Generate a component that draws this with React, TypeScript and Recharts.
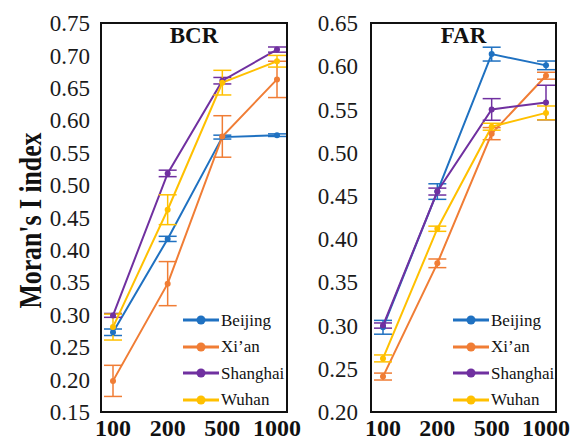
import { LineChart, Line, XAxis, YAxis, ErrorBar, Legend } from "recharts";

const serif = "'Liberation Serif', 'Times New Roman', serif";

const sizes = ["100", "200", "500", "1000"];
const cities = ["Beijing", "Xi’an", "Shanghai", "Wuhan"];
const cityColors = ["#1F71C1", "#F07D35", "#7030A0", "#FFC000"];

// BCR panel
const bcrBeijing = [0.273, 0.417, 0.574, 0.577];
const bcrBeijingErr = [0.005, 0.004, 0.003, 0.002];
const bcrXian = [0.198, 0.348, 0.575, 0.663];
const bcrXianErr = [0.024, 0.034, 0.032, 0.028];
const bcrShanghai = [0.299, 0.518, 0.661, 0.709];
const bcrShanghaiErr = [0.003, 0.005, 0.005, 0.004];
const bcrWuhan = [0.281, 0.462, 0.658, 0.691];
const bcrWuhanErr = [0.02, 0.023, 0.019, 0.009];
const bcrTicks = [0.15, 0.2, 0.25, 0.3, 0.35, 0.4, 0.45, 0.5, 0.55, 0.6, 0.65, 0.7, 0.75];

// FAR panel
const farBeijing = [0.298, 0.455, 0.614, 0.601];
const farBeijingErr = [0.008, 0.009, 0.008, 0.005];
const farXian = [0.241, 0.372, 0.522, 0.589];
const farXianErr = [0.004, 0.005, 0.007, 0.004];
const farShanghai = [0.3, 0.455, 0.55, 0.558];
const farShanghaiErr = [0.003, 0.004, 0.0125, 0.02];
const farWuhan = [0.262, 0.412, 0.53, 0.546];
const farWuhanErr = [0.004, 0.003, 0.004, 0.008];
const farTicks = [0.2, 0.25, 0.3, 0.35, 0.4, 0.45, 0.5, 0.55, 0.6, 0.65];

const buildRows = (series: number[][], errors: number[][]) =>
  sizes.map((size, i) => {
    const row: Record<string, string | number> = { size };
    series.forEach((s, k) => {
      row[`s${k}`] = s[i];
      row[`e${k}`] = errors[k][i];
    });
    return row;
  });

const bcrData = buildRows(
  [bcrBeijing, bcrXian, bcrShanghai, bcrWuhan],
  [bcrBeijingErr, bcrXianErr, bcrShanghaiErr, bcrWuhanErr]
);
const farData = buildRows(
  [farBeijing, farXian, farShanghai, farWuhan],
  [farBeijingErr, farXianErr, farShanghaiErr, farWuhanErr]
);

// keep the legend in series order (Recharts sorts payload by name otherwise)
const LegendRows = () => (
  <div>
    {cities.map((city, k) => (
      <div key={city} style={{ display: "flex", alignItems: "center", height: 26.5 }}>
        <svg width={36} height={12}>
          <line x1={0} y1={6} x2={36} y2={6} stroke={cityColors[k]} strokeWidth={3} />
          <circle cx={18} cy={6} r={4.5} fill={cityColors[k]} />
        </svg>
        <span style={{ marginLeft: 2, fontSize: 17, fontFamily: serif, color: "#111", lineHeight: 1 }}>
          {city}
        </span>
      </div>
    ))}
  </div>
);

const YTitle = ({ viewBox }: any) => {
  const x = (viewBox?.x ?? 0) + 41;
  const y = (viewBox?.y ?? 0) + (viewBox?.height ?? 0) / 2 + 3;
  return (
    <text
      x={x}
      y={y}
      transform={`rotate(-90 ${x} ${y})`}
      textAnchor="middle"
      fontFamily={serif}
      fontWeight="bold"
      fontSize={32}
      fill="#111"
      textLength={176}
      lengthAdjust="spacingAndGlyphs"
    >
      Moran's I index
    </text>
  );
};

interface PanelProps {
  data: Record<string, string | number>[];
  ticks: number[];
  title: string;
  left: number;
  width: number;
  axisWidth: number;
  plotWidth: number;
  tickGap: number;
  withTitle?: boolean;
}

const Panel = ({ data, ticks, title, left, width, axisWidth, plotWidth, tickGap, withTitle }: PanelProps) => {
  const boxLeft = left + axisWidth - 1;
  const boxWidth = plotWidth + 2;
  const marginRight = width - axisWidth - plotWidth;
  return (
    <>
      <div
        style={{
          position: "absolute",
          left: boxLeft,
          top: 22,
          width: boxWidth,
          height: 391,
          border: "2px solid #111",
          boxSizing: "border-box",
        }}
      />
      <div
        style={{
          position: "absolute",
          left: boxLeft,
          top: 25,
          width: boxWidth,
          textAlign: "center",
          fontFamily: serif,
          fontWeight: "bold",
          fontSize: 23,
          lineHeight: "22px",
          color: "#111",
        }}
      >
        {title}
      </div>
      <div style={{ position: "absolute", left, top: 0, fontFamily: serif }}>
        <LineChart width={width} height={441} data={data} margin={{ top: 23, right: marginRight, bottom: 0, left: 0 }}>
          <XAxis
            dataKey="size"
            padding={{ left: 12, right: 10 }}
            axisLine={false}
            tickLine={false}
            tickSize={0}
            tickMargin={7}
            height={29}
            interval={0}
            tick={{ fontSize: 24, fontWeight: "bold", fontFamily: serif, fill: "#111" }}
          />
          <YAxis
            domain={[ticks[0], ticks[ticks.length - 1]]}
            ticks={ticks}
            allowDataOverflow
            width={axisWidth}
            axisLine={false}
            tickLine={false}
            tickSize={0}
            tickMargin={tickGap}
            interval={0}
            tickFormatter={(v: number) => v.toFixed(2)}
            tick={{ fontSize: 23, fontFamily: serif, fill: "#1a1a1a" }}
            label={withTitle ? <YTitle /> : undefined}
          />
          <Legend
            layout="horizontal"
            verticalAlign="middle"
            align="center"
            wrapperStyle={{ left: axisWidth + 82, top: 307, width: 108 }}
            content={<LegendRows />}
          />
          {cities.map((city, k) => (
            <Line
              key={city}
              name={city}
              dataKey={`s${k}`}
              stroke={cityColors[k]}
              strokeWidth={2}
              dot={{ r: 3, fill: cityColors[k], stroke: cityColors[k], strokeWidth: 0 }}
              activeDot={false}
              isAnimationActive={false}
            >
              <ErrorBar dataKey={`e${k}`} width={9} strokeWidth={1.5} stroke={cityColors[k]} direction="y" />
            </Line>
          ))}
        </LineChart>
      </div>
    </>
  );
};

export default function App() {
  return (
    <div style={{ position: "absolute", left: 0, top: 0, width: 571, height: 441, background: "#fff" }}>
      <Panel data={bcrData} ticks={bcrTicks} title="BCR" left={0} width={312} axisWidth={101} plotWidth={186} tickGap={11} withTitle />
      <Panel data={farData} ticks={farTicks} title="FAR" left={290} width={281} axisWidth={81} plotWidth={185} tickGap={13} />
    </div>
  );
}
